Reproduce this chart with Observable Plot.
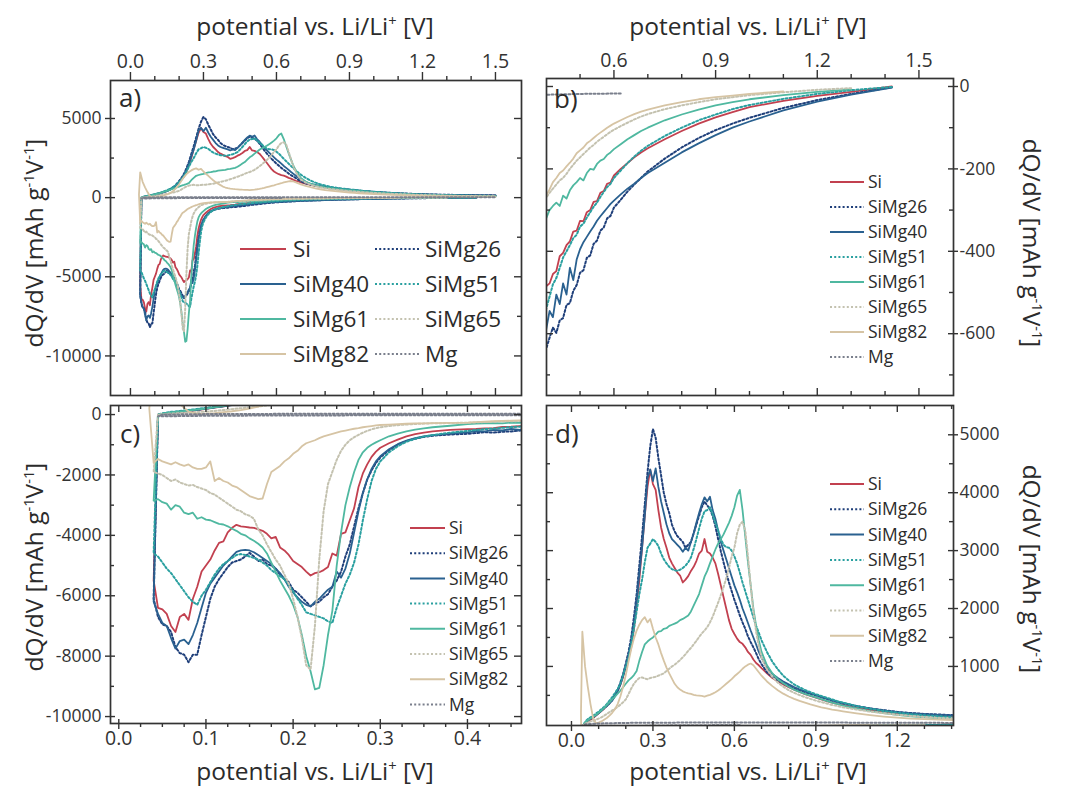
<!DOCTYPE html>
<html><head><meta charset="utf-8">
<script src="https://cdn.jsdelivr.net/npm/d3@7"></script>
<script src="https://cdn.jsdelivr.net/npm/@observablehq/plot@0.6"></script>
<style>
body{margin:0;background:#fff;}
#wrap{position:relative;width:1075px;height:787px;overflow:hidden;background:#fff;font-family:"Open Sans",sans-serif;}
</style></head>
<body><div id="wrap"></div>
<script>
// ---------------- series ----------------
const series = ["Si","SiMg26","SiMg40","SiMg51","SiMg61","SiMg65","SiMg82","Mg"];
const colors = ["#c2404f","#1f3f7a","#2a6190","#2aa0a0","#4fb8a0","#c4c2b0","#d6c4a4","#7a7f8c"];
const dotted = [false,true,false,true,false,true,false,true];

// cathodic scan potentials (V)
const catX = [0.040,0.045,0.050,0.055,0.060,0.065,0.070,0.075,0.080,0.085,
0.090,0.095,0.100,0.105,0.110,0.115,0.120,0.125,0.130,0.135,
0.140,0.145,0.150,0.155,0.160,0.165,0.170,0.175,0.180,0.185,
0.190,0.195,0.200,0.205,0.210,0.215,0.220,0.225,0.230,0.235,
0.240,0.245,0.250,0.255,0.260,0.265,0.270,0.275,0.280,0.285,
0.290,0.295,0.300,
0.31,0.32,0.33,0.34,0.35,0.36,0.38,0.40,
0.41,0.42,0.43,0.44,0.45,0.46,0.47,0.48,0.49,0.50,0.51,0.52,0.53,0.54,0.55,0.56,0.57,0.58,0.59,0.60,
0.62,0.64,0.66,0.68,0.70,
0.75,0.80,0.85,0.90,0.95,1.00,
1.10,1.20,1.30,1.42];

// anodic scan potentials (V)
const anoX = [0.035,0.04,0.045,
0.05,0.06,0.07,0.08,0.09,0.10,0.11,0.12,0.13,0.14,
0.15,0.16,0.17,0.18,0.19,0.20,0.21,0.22,0.23,0.24,
0.25,0.26,0.27,0.28,0.29,0.30,0.31,0.32,0.33,0.34,
0.35,0.36,0.37,0.38,0.39,0.40,0.41,0.42,0.43,0.44,
0.45,0.46,0.47,0.48,0.49,0.50,0.51,0.52,0.53,0.54,
0.55,0.56,0.57,0.58,0.59,0.60,0.61,0.62,0.63,0.64,
0.65,0.66,0.67,0.68,0.69,0.70,
0.72,0.74,0.76,0.78,0.80,0.82,0.84,0.86,0.88,0.90,0.92,0.94,0.96,0.98,1.00,
1.05,1.10,1.15,1.20,1.25,1.30,1.35,1.40,1.45,1.50];

// dQ/dV (mAh g-1 V-1), cathodic
const catSi = [-5500,-6400,-6450,-6600,-7000,-7200,-6700,-6600,-6800,-6100,
-5700,-5200,-5000,-4800,-4500,-4250,-4200,-3900,-3750,-3650,
-3700,-3720,-3740,-3750,-3800,-3850,-3950,-4100,-4050,-4400,
-4500,-4650,-4850,-4950,-5050,-5200,-5330,-5250,-5220,-5150,
-5050,-4600,-4670,-3950,-3900,-3500,-3100,-2400,-1950,-1650,
-1400,-1230,-1100,
-950,-830,-720,-650,-600,-560,-510,-485,
-478,-455,-448,-412,-404,-385,-376,-352,-350,-326,-327,-305,-300,-280,-278,-258,-254,-236,-233,-216,
-200,-186,-172,-160,-150,
-128,-108,-90,-75,-62,-50,
-35,-23,-13,0];
const catSiMg26 = [-6100,-6700,-6950,-7000,-7200,-7700,-7900,-7950,-8200,-7950,
-7950,-7300,-6700,-6100,-5700,-5450,-5250,-5050,-4900,-4850,
-4800,-4700,-4580,-4700,-4850,-4800,-4950,-5000,-5100,-5300,
-5450,-5550,-5800,-5900,-6050,-6200,-6350,-6250,-6200,-6050,
-5950,-5700,-5500,-5200,-4700,-4300,-3700,-3100,-2600,-2150,
-1850,-1600,-1420,
-1180,-1000,-880,-800,-740,-700,-660,-637,
-610,-585,-598,-568,-562,-530,-526,-496,-482,-452,-446,-416,-410,-382,-374,-350,-342,-320,-314,-294,
-275,-255,-238,-222,-206,
-175,-148,-125,-106,-90,-76,
-52,-33,-18,-2];
const catSiMg40 = [-6200,-6600,-6900,-7000,-7400,-7750,-7500,-7450,-7600,-7300,
-6900,-6400,-5900,-5600,-5400,-5200,-5000,-4850,-4700,-4550,
-4500,-4480,-4500,-4560,-4650,-4750,-4850,-4950,-5100,-5250,
-5450,-5700,-5900,-6050,-6200,-6300,-6350,-6200,-6100,-5950,
-5800,-5700,-5200,-5400,-5100,-4600,-3900,-3200,-2600,-2150,
-1800,-1550,-1380,
-1150,-980,-860,-780,-720,-680,-630,-590,
-545,-560,-505,-528,-478,-505,-440,-470,-420,-395,-378,-365,-352,-340,-326,-315,-305,-295,-285,-277,
-262,-248,-236,-222,-210,
-185,-160,-138,-118,-100,-85,
-58,-37,-20,-3];
const catSiMg51 = [-4600,-4700,-4900,-5100,-5250,-5450,-5650,-5850,-6050,-6200,
-6300,-6000,-5800,-5550,-5300,-5100,-4950,-4850,-4750,-4650,
-4620,-4650,-4700,-4750,-4800,-4900,-5000,-5150,-5250,-5350,
-5450,-5650,-5850,-6100,-6300,-6550,-6600,-6650,-6700,-6750,
-6850,-6900,-6400,-6000,-5600,-5300,-4900,-4300,-3500,-2800,
-2200,-1800,-1550,
-1250,-1050,-900,-800,-730,-680,-600,-540,
-510,-480,-465,-440,-415,-400,-385,-368,-360,-340,-333,-318,-305,-292,-282,-268,-256,-244,-236,-222,
-204,-186,-170,-156,-144,
-120,-100,-82,-68,-55,-45,
-30,-18,-9,-1];
const catSiMg61 = [-2850,-2800,-2900,-2950,-3150,-3000,-3050,-3250,-3300,-3250,
-3450,-3400,-3480,-3500,-3560,-3620,-3640,-3700,-3780,-3850,
-3950,-4000,-4100,-4180,-4280,-4400,-4600,-4900,-5200,-5500,
-5750,-6000,-6300,-6700,-7300,-8000,-8500,-9100,-9050,-8300,
-7300,-6500,-5000,-3900,-3000,-2400,-1900,-1500,-1250,-1100,
-1000,-920,-850,
-720,-630,-560,-500,-460,-420,-370,-320,
-300,-290,-282,-290,-265,-272,-252,-240,-232,-222,-228,-210,-200,-202,-188,-180,-176,-166,-160,-152,
-140,-128,-118,-108,-100,
-82,-68,-56,-46,-38,-31,
-21,-13,-7,null];
const catSiMg65 = [-1900,-1950,-2000,-2100,-2200,-2150,-2250,-2300,-2350,-2330,
-2400,-2450,-2500,-2600,-2650,-2750,-2850,-2950,-3050,-3150,
-3200,-3300,-3350,-3450,-3800,-4000,-4300,-4550,-4800,-5000,
-5300,-5600,-6100,-6700,-7400,-8300,-8450,-7000,-4800,-3200,
-2300,-1900,-1500,-1200,-1000,-850,-750,-670,-600,-540,
-490,-450,-420,
-380,-350,-330,-310,-300,-290,-280,-270,
-258,-248,-238,-228,-222,-212,-200,-190,-180,-172,-164,-156,-148,-142,-134,-128,-122,-116,-110,-105,
-96,-88,-80,-73,-67,
-55,-46,-38,-31,-26,-21,
-14,-8,-4,null];
const catSiMg82 = [-1600,-1470,-1550,-1600,-1650,-1580,-1650,-1700,-1650,-1750,
-1800,-1800,-1750,-1550,-2200,-2100,-2200,-2250,-2350,-2400,
-2500,-2600,-2700,-2750,-2800,-2780,-2300,-1900,-1800,-1700,
-1550,-1450,-1300,-1200,-1050,-950,-900,-850,-780,-720,
-680,-640,-600,-560,-530,-500,-470,-450,-420,-400,
-380,-360,-345,
-330,-315,-305,-295,-290,-285,-275,-265,
-250,-232,-222,-210,-204,-194,-185,-175,-162,-155,-148,-138,-132,-125,-118,-112,-106,-100,-95,-90,
-82,-74,-67,-61,-56,
-46,-38,-31,-26,-22,-18,
-12,null,null,null];

// dQ/dV (mAh g-1 V-1), anodic
const anoSi = [null,null,0,
20,50,80,110,150,190,230,270,320,370,
430,500,580,680,820,990,1150,1330,1650,2050,
2500,3050,3600,4100,4400,4150,4050,3700,3400,3200,
3050,2880,2780,2700,2620,2570,2450,2500,2560,2650,
2720,2820,2950,3000,3200,2980,2950,2880,2780,2600,
2400,2200,2000,1800,1650,1560,1480,1420,1390,1330,
1250,1200,1120,1060,1020,970,
880,800,740,690,640,600,560,520,490,460,430,400,375,350,330,
285,250,220,195,175,160,150,140,130,120];
const anoSiMg26 = [null,null,-10,
20,70,100,130,160,200,240,280,320,370,
420,500,590,720,870,1050,1250,1500,1850,2250,
2750,3250,3800,4350,4800,5100,4950,4600,4300,4000,
3800,3650,3450,3330,3250,3200,3150,3050,3100,3150,
3300,3450,3600,3750,3850,3780,3720,3600,3420,3200,
2990,2800,2620,2450,2300,2150,2020,1880,1760,1650,
1520,1420,1330,1230,1120,1040,
900,820,760,710,660,620,590,555,525,500,470,440,410,385,360,
315,275,245,215,195,180,170,160,150,140];
const anoSiMg40 = [null,null,-10,
20,60,95,125,155,195,235,275,315,360,
410,480,570,690,830,1000,1200,1450,1750,2150,
2600,3050,3600,4250,4400,4200,4420,4100,3850,3650,
3450,3300,3200,3150,3100,3050,2980,3050,3000,3150,
3300,3480,3650,3800,3920,3850,3930,3700,3550,3350,
3150,3000,2850,2700,2550,2400,2280,2150,2000,1880,
1750,1620,1500,1380,1250,1150,
980,870,800,740,690,645,605,570,535,505,475,445,415,390,365,
315,275,240,210,190,175,165,155,145,135];
const anoSiMg51 = [null,null,0,
40,90,120,150,185,220,260,300,350,410,
470,540,610,700,850,1000,1150,1380,1650,1950,
2250,2500,2800,3050,3120,3200,3150,3080,2950,2850,
2780,2720,2680,2660,2650,2670,2700,2740,2800,2880,
3030,3200,3380,3550,3680,3700,3750,3620,3480,3350,
3200,3100,3060,3050,3000,2900,2780,2620,2450,2300,
2150,2000,1850,1700,1580,1450,
1250,1080,950,840,760,690,640,595,555,520,490,460,430,400,375,
315,270,230,200,175,155,140,125,115,105];
const anoSiMg61 = [null,null,0,
30,70,100,130,160,200,240,280,330,380,
430,480,530,580,640,700,760,800,850,920,
1100,1250,1380,1430,1470,1500,1550,1600,1610,1650,
1660,1700,1720,1740,1760,1800,1820,1850,1880,1950,
2050,2150,2250,2400,2550,2650,2780,2900,3020,3120,
3200,3280,3380,3480,3600,3750,3950,4050,3700,3250,
2800,2400,2000,1700,1450,1250,
1020,880,780,710,650,600,560,525,495,465,435,405,375,350,325,
275,230,195,165,140,120,105,95,85,78];
const anoSiMg65 = [null,null,0,
10,30,50,60,80,100,120,150,180,210,
240,270,300,340,380,430,520,620,700,760,
800,810,790,780,800,810,820,840,860,880,
920,960,1000,1030,1070,1110,1160,1210,1270,1320,
1380,1440,1510,1570,1620,1680,1760,1860,1980,2100,
2230,2370,2520,2700,2900,3050,3300,3450,3500,3350,
2900,2400,1950,1600,1350,1150,
950,820,720,650,590,545,505,470,440,410,385,360,335,315,295,
255,220,190,165,145,125,110,100,90,80];
const anoSiMg82 = [200,1600,1300,
1000,650,350,100,20,30,50,80,110,150,
200,260,350,480,650,850,1080,1300,1480,1620,
1720,1800,1850,1760,1820,1650,1500,1380,1230,1100,
980,880,790,700,640,600,570,550,535,525,
510,500,495,490,480,495,510,530,555,585,
620,660,700,740,780,830,870,910,960,1000,
1030,1050,1020,960,900,840,
740,660,590,530,480,440,405,375,345,320,295,275,255,240,225,
190,160,135,115,100,90,80,72,66,60];

// Mg reference (sparser sampling)
const mgCatX = [0.045,0.1,0.2,0.3,0.4,0.5,0.62];
const mgCatY = [-60,-40,-30,-25,-20,-18,-17];
const mgAnoX = [0.045,0.05,0.1,0.2,0.3,0.4,0.5,0.6,0.7,0.8,0.9,1.0,1.1,1.2,1.3,1.4,1.5];
const mgAnoY = [-60,0,15,25,28,30,30,30,30,30,30,30,28,27,26,25,25];

// ticks
const xTicksA = [0,0.3,0.6,0.9,1.2,1.5], xMinorA = [0.1,0.2,0.4,0.5,0.7,0.8,1.0,1.1,1.3,1.4];
const yTicksA = [5000,0,-5000,-10000], yMinorA = [2500,-2500,-7500];
const xTicksB = [0.6,0.9,1.2,1.5], xMinorB = [0.5,0.7,0.8,1.0,1.1,1.3,1.4];
const yTicksB = [0,-200,-400,-600], yMinorB = [-100,-300,-500,-700];
const xTicksC = [0,0.1,0.2,0.3,0.4], xMinorC = [0.025,0.05,0.075,0.125,0.15,0.175,0.225,0.25,0.275,0.325,0.35,0.375,0.425,0.45];
const yTicksC = [0,-2000,-4000,-6000,-8000,-10000], yMinorC = [-1000,-3000,-5000,-7000,-9000];
const xTicksD = [0,0.3,0.6,0.9,1.2], xMinorD = [0.1,0.2,0.4,0.5,0.7,0.8,1.0,1.1,1.3,1.4];
const yTicksD = [1000,2000,3000,4000,5000], yMinorD = [500,1500,2500,3500,4500];

// ---------------- build paths ----------------
const catY = [catSi,catSiMg26,catSiMg40,catSiMg51,catSiMg61,catSiMg65,catSiMg82];
const anoY = [anoSi,anoSiMg26,anoSiMg40,anoSiMg51,anoSiMg61,anoSiMg65,anoSiMg82];
catY.forEach((a,i)=>{ if(a.length!==catX.length) throw new Error("cat "+series[i]+" "+a.length+" vs "+catX.length); });
anoY.forEach((a,i)=>{ if(a.length!==anoX.length) throw new Error("ano "+series[i]+" "+a.length+" vs "+anoX.length); });

function buildPath(cx, cy, ax, ay){
  const p=[];
  for(let i=cx.length-1;i>=0;i--) if(cy[i]!=null) p.push({x:cx[i],y:cy[i]});
  for(let i=0;i<ax.length;i++) if(ay[i]!=null) p.push({x:ax[i],y:ay[i]});
  return p;
}
const paths = catY.map((c,i)=>buildPath(catX,c,anoX,anoY[i]));
paths.push(buildPath(mgCatX,mgCatY,mgAnoX,mgAnoY));

// ---------------- panels ----------------
const AX="#333";
const FONT="'Open Sans', sans-serif";
const DASH="2,2.2";
function xt(vals, edge, lin, lout, fh){
  const L=lin+lout;
  return edge==="top"
   ? Plot.tickX(vals,{x:d=>d,insetBottom:fh-L,dy:-lout,stroke:AX,strokeWidth:1.4})
   : Plot.tickX(vals,{x:d=>d,insetTop:fh-L,dy:lout,stroke:AX,strokeWidth:1.4});
}
function yt(vals, edge, lin, lout, fw){
  const L=lin+lout;
  return edge==="left"
   ? Plot.tickY(vals,{y:d=>d,insetRight:fw-L,dx:-lout,stroke:AX,strokeWidth:1.4})
   : Plot.tickY(vals,{y:d=>d,insetLeft:fw-L,dx:lout,stroke:AX,strokeWidth:1.4});
}

const panels = [
 {left:0,top:0,w:530,h:400,mt:80,mr:9,mb:5,ml:110,xd:[-0.082,1.607],yd:[-12500,7400],
  xe:"top",ye:"left",xM:xTicksA,xm:xMinorA,yM:yTicksA,ym:yMinorA,xpad:13,ypad:9},
 {left:530,top:0,w:545,h:400,mt:78,mr:122,mb:5,ml:16,xd:[0.401,1.602],yd:[-750,19.4],
  xe:"top",ye:"right",xM:xTicksB,xm:xMinorB,yM:yTicksB,ym:yMinorB,xpad:12,ypad:6},
 {left:0,top:400,w:530,h:387,mt:5,mr:9,mb:64,ml:110,xd:[-0.0095,0.462],yd:[-10230,300],
  xe:"bottom",ye:"left",xM:xTicksC,xm:xMinorC,yM:yTicksC,ym:yMinorC,xpad:8,ypad:9},
 {left:530,top:400,w:545,h:387,mt:5,mr:122,mb:62,ml:16,xd:[-0.092,1.407],yd:[-20,5506],
  xe:"bottom",ye:"right",xM:xTicksD,xm:xMinorD,yM:yTicksD,ym:yMinorD,xpad:8,ypad:6}
];

const wrap=document.getElementById("wrap");
panels.forEach(p=>{
  const fw=p.w-p.ml-p.mr, fh=p.h-p.mt-p.mb;
  const marks=[];
  paths.forEach((d,i)=>{
    marks.push(Plot.line(d,{x:"x",y:"y",stroke:colors[i],strokeWidth:dotted[i]?2:1.8,
      strokeDasharray:dotted[i]?DASH:null,clip:true}));
  });
  marks.push(Plot.frame({stroke:AX,strokeWidth:1.7}));
  const xo = p.xe, xi = p.xe==="top"?"bottom":"top";
  const yo = p.ye, yi = p.ye==="left"?"right":"left";
  marks.push(xt(p.xM,xo, xo==="top"?0:4, xo==="top"?8:6, fh));
  marks.push(xt(p.xm,xo,0,4,fh));
  marks.push(xt(p.xM,xi,7,0,fh));
  marks.push(xt(p.xm,xi,4,0,fh));
  marks.push(yt(p.yM,yo,5,5,fw));
  marks.push(yt(p.ym,yo,4,0,fw));
  marks.push(yt(p.yM,yi,7,0,fw));
  marks.push(yt(p.ym,yi,4,0,fw));
  marks.push(Plot.axisX({anchor:p.xe,ticks:p.xM,tickSize:0,tickPadding:p.xpad,
    tickFormat:d3.format(".1f"),label:null,fill:AX}));
  marks.push(Plot.axisY({anchor:p.ye,ticks:p.yM,tickSize:0,tickPadding:p.ypad,
    tickFormat:d=>String(d),label:null,fill:AX}));
  const svg=Plot.plot({width:p.w,height:p.h,marginTop:p.mt,marginRight:p.mr,marginBottom:p.mb,marginLeft:p.ml,
    x:{domain:p.xd},y:{domain:p.yd},
    style:{fontFamily:FONT,fontSize:"19px",background:"transparent",color:AX,overflow:"visible"},
    marks});
  svg.querySelectorAll('[aria-label="x-axis tick label"]').forEach(g=>{g.setAttribute("font-size","19.5");g.querySelectorAll("text").forEach(t=>t.setAttribute("font-size","19.5"));});
  svg.querySelectorAll('[aria-label="y-axis tick label"]').forEach(g=>{g.setAttribute("font-size","17.5");g.querySelectorAll("text").forEach(t=>t.setAttribute("font-size","17.5"));});
  svg.style.position="absolute";
  svg.style.left=p.left+"px";
  svg.style.top=p.top+"px";
  svg.style.maxWidth="none";
  wrap.appendChild(svg);
});

// ---------------- overlay: titles, letters, legends ----------------
const ov=d3.select(wrap).append("svg").attr("width",1075).attr("height",787)
  .style("position","absolute").style("left","0px").style("top","0px")
  .style("font-family",FONT).style("pointer-events","none");

function title(x,y,rot,parts,fs){
  const t=ov.append("text").attr("transform",`translate(${x},${y}) rotate(${rot})`)
    .attr("text-anchor","middle").attr("font-size",fs).attr("fill","#2b2b2b");
  let up=false;
  parts.forEach(([s,sup])=>{
    const ts=t.append("tspan").text(s);
    if(sup){ts.attr("dy",-9).attr("font-size",fs*0.6); up=true;}
    else if(up){ts.attr("dy",9); up=false;}
  });
}
const xTitle=[["potential vs. Li/Li"],["+",true],[" [V]"]];
const yTitle=[["dQ/dV [mAh g"],["-1",true],["V"],["-1",true],["]"]];
title(315,35,0,xTitle,24.5);
title(748,35,0,xTitle,24.5);
title(315,780,0,xTitle,24.5);
title(748,780,0,xTitle,24.5);
title(43,243,-90,yTitle,24.5);
title(43,567,-90,yTitle,24.5);
title(1023,243,90,yTitle,24.5);
title(1023,569,90,yTitle,24.5);

const letters=[["a)",119,107],["b)",554,108],["c)",120,443],["d)",555,443]];
letters.forEach(([s,x,y])=>ov.append("text").attr("x",x).attr("y",y).attr("font-size",26).attr("fill","#2b2b2b").text(s));

function legItem(i,x0,x1,tx,y,fs){
  ov.append("line").attr("x1",x0).attr("x2",x1).attr("y1",y).attr("y2",y)
    .attr("stroke",colors[i]).attr("stroke-width",2)
    .attr("stroke-dasharray",dotted[i]?DASH:null);
  ov.append("text").attr("x",tx).attr("y",y).attr("dy","0.35em").attr("font-size",fs)
    .attr("fill","#2b2b2b").text(series[i]);
}
[0,2,4,6].forEach((s,k)=>legItem(s,240,286,293,249+35*k,22.5));
[1,3,5,7].forEach((s,k)=>legItem(s,375,419,425,249+35*k,22.5));
series.forEach((s,i)=>legItem(i,830,864,868,182+25*i,17.5));
series.forEach((s,i)=>legItem(i,410,445,449,528+25.2*i,17.5));
series.forEach((s,i)=>legItem(i,830,864,868,484+25.3*i,17.5));
</script>
</body></html>
